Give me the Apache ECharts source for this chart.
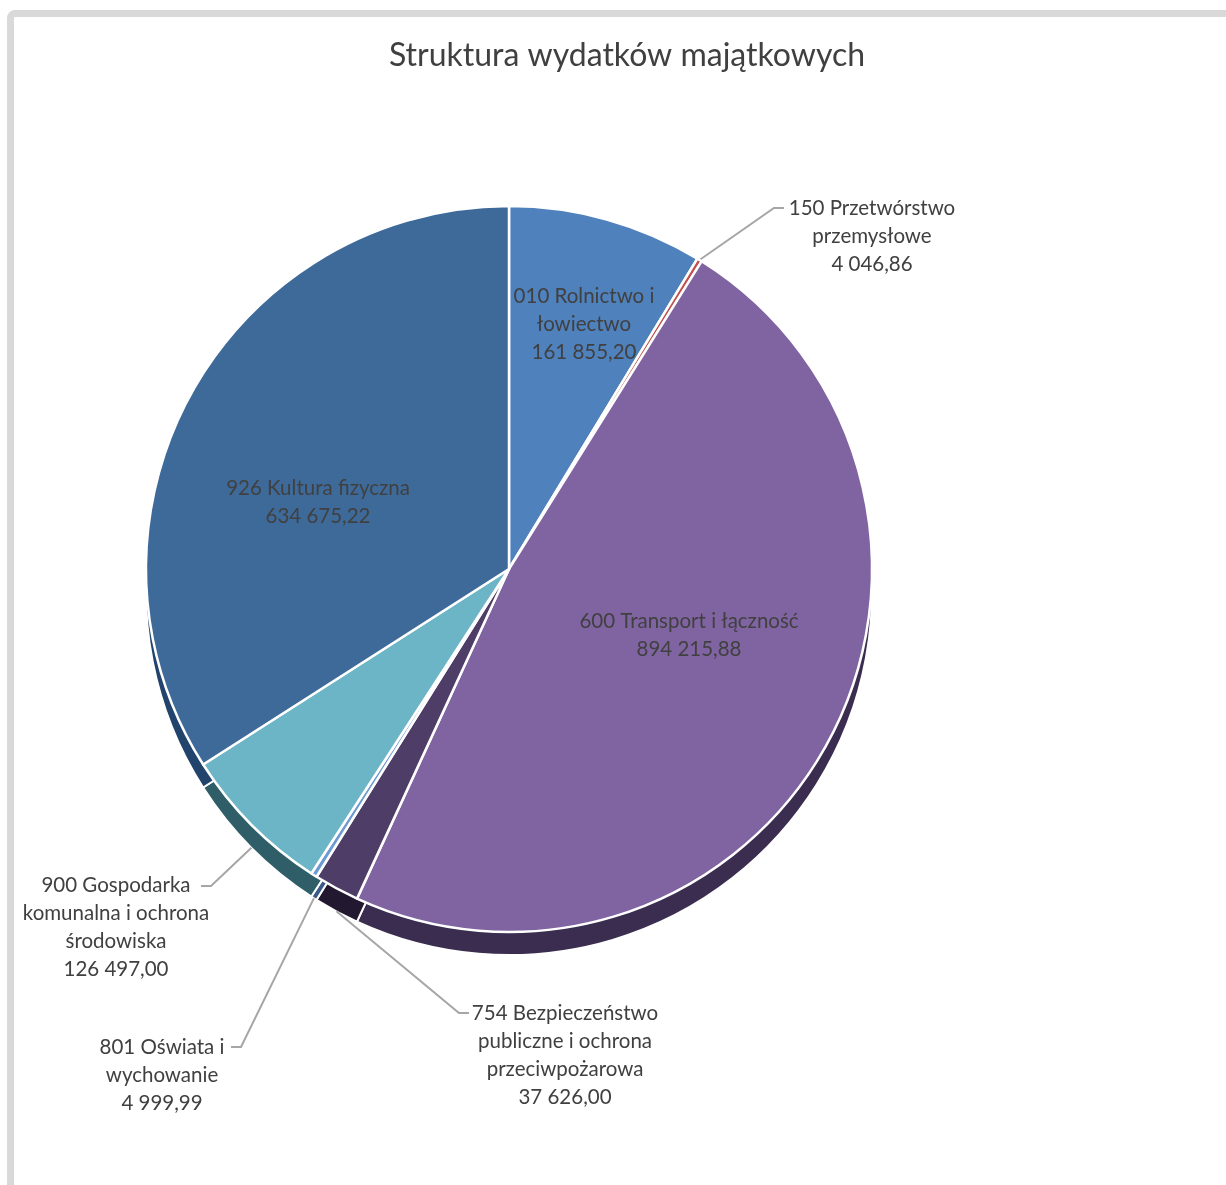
<!DOCTYPE html>
<html>
<head>
<meta charset="utf-8">
<script src="https://cdn.jsdelivr.net/npm/echarts@6/dist/echarts.min.js"></script>
<style>
  html, body { margin: 0; padding: 0; background: #fff; overflow: hidden; }
  #frame { position: absolute; left: 7px; top: 10px; width: 1260px; height: 1220px;
           border: 7px solid #D9D9D9; border-radius: 8px; box-sizing: border-box; }
  #chart { position: absolute; left: 0; top: 0; width: 1226px; height: 1185px; }
</style>
</head>
<body>
<div id="frame"></div>
<div id="chart"></div>
<script>
// ---- data ----
const titleText = 'Struktura wydatków majątkowych';
const categories = [
  '010 Rolnictwo i\nłowiectwo',
  '150 Przetwórstwo\nprzemysłowe',
  '600 Transport i łączność',
  '754 Bezpieczeństwo\npubliczne i ochrona\nprzeciwpożarowa',
  '801 Oświata i\nwychowanie',
  '900 Gospodarka\nkomunalna i ochrona\nśrodowiska',
  '926 Kultura fizyczna'
];
const values = [161855.20, 4046.86, 894215.88, 37626.00, 4999.99, 126497.00, 634675.22];

// ---- styles ----
const topColors = ['#4F81BD', '#C0504D', '#8064A2', '#4E3D66', '#6E9AD2', '#6BB5C7', '#3E6A9A'];
const sideColors = ['#2C4E7A', '#7A2C2A', '#3A2D4F', '#22182F', '#3A5A88', '#2F5E68', '#22446C'];
const inside = [true, false, true, false, false, false, true];
// label block centers (px)
const labelPos = [
  [584, 324], [872, 236], [689, 635], [565, 1055], [162, 1075], [116, 927], [318, 502]
];
const lineEnd = [null, [784, 208], null, [469, 1013], [231, 1047], [201, 886], null];
const lineElbow = [null, [774, 208], null, [459, 1013], [241, 1047], [211, 886], null];

const CX = 509, CY = 569, R = 363, DEPTH = 23;

function fmt(v) {
  const parts = v.toFixed(2).split('.');
  const intPart = parts[0].replace(/\B(?=(\d{3})+(?!\d))/g, ' ');
  return intPart + ',' + parts[1];
}

const total = values.reduce((a, b) => a + b, 0);
const midAngles = [];
{
  let acc = 0;
  values.forEach(v => { midAngles.push((acc + v / 2) / total * 2 * Math.PI); acc += v; });
}
function anchor(i) {
  const a = midAngles[i];
  let x = CX + R * Math.sin(a);
  let y = CY - R * Math.cos(a);
  if (y > CY) y += DEPTH;
  return [x, y];
}

const font = 'Lato, "Open Sans", sans-serif';

const topData = categories.map((c, i) => ({
  name: c,
  value: values[i],
  itemStyle: { color: topColors[i] },
  label: { position: inside[i] ? 'inside' : 'outside', width: 280, overflow: 'none' },
  labelLine: { show: !inside[i] }
}));
const sideData = categories.map((c, i) => ({
  name: c, value: values[i], itemStyle: { color: sideColors[i] }
}));

const chart = echarts.init(document.getElementById('chart'), null, { renderer: 'canvas' });
chart.setOption({
  backgroundColor: 'transparent',
  animation: false,
  title: {
    text: titleText,
    left: 622, top: 35, textAlign: 'center',
    textStyle: { fontFamily: font, fontSize: 32, fontWeight: 'normal', color: '#404040' }
  },
  series: [
    {
      type: 'pie', z: 1, silent: true,
      center: [CX, CY + DEPTH], radius: R,
      startAngle: 90, clockwise: true,
      label: { show: false }, labelLine: { show: false },
      itemStyle: { borderColor: '#ffffff', borderWidth: 2 },
      data: sideData
    },
    {
      type: 'pie', z: 2,
      center: [CX, CY], radius: R,
      startAngle: 90, clockwise: true,
      itemStyle: { borderColor: '#ffffff', borderWidth: 2.5 },
      label: {
        show: true,
        formatter: p => p.name + '\n' + fmt(p.value),
        fontFamily: font, fontSize: 20.5, lineHeight: 28, color: '#404040',
        align: 'center'
      },
      labelLine: { show: true, lineStyle: { color: '#A6A6A6', width: 2 } },
      labelLayout: function (params) {
        const i = params.dataIndex;
        const out = {
          x: labelPos[i][0], y: labelPos[i][1],
          align: 'center', verticalAlign: 'middle'
        };
        if (!inside[i]) {
          out.labelLinePoints = [anchor(i), lineElbow[i], lineEnd[i]];
        }
        return out;
      },
      data: topData
    }
  ]
});
</script>
</body>
</html>
